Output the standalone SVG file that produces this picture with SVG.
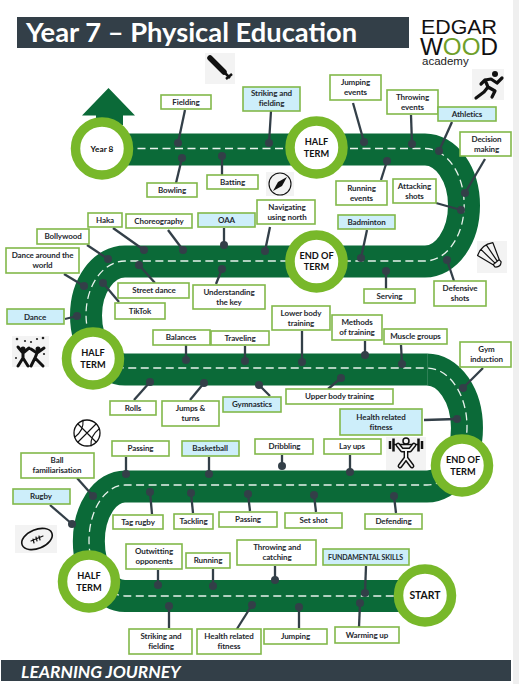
<svg xmlns="http://www.w3.org/2000/svg" width="519" height="684" viewBox="0 0 519 684">
<style>
text{font-family:"Lato","Liberation Sans",sans-serif;font-weight:700;fill:#1f2a30;text-anchor:middle}
.n rect{fill:#fff;stroke:#82b84a;stroke-width:1.6}
.b rect{fill:#cdeefa}
.n text{font-size:8px;letter-spacing:-.1px}
.s circle{fill:#fff;stroke:#78b82a;stroke-width:9.5}
.s text{font-size:9.2px;fill:#111}
#connectors line{stroke:#333f48;stroke-width:2.3}
#connectors circle{fill:#333f48;r:4px}
.ibg{fill:#f3f3f3}
.k{stroke:#111;fill:none;stroke-linecap:round;stroke-linejoin:round}
.logo{font-family:"Liberation Sans",sans-serif;font-weight:400;fill:#111;text-anchor:start}
</style>
<rect width="519" height="684" fill="#fff"/>
<rect x="513" width="6" height="684" fill="#efefef"/>
<rect x="17" y="17" width="392" height="31" fill="#333f48"/>
<text x="26" y="42" style="font-size:27.3px;fill:#fff;text-anchor:start">Year 7 – Physical Education</text>
<rect x="1" y="660" width="510" height="21" fill="#333f48"/>
<text x="21" y="678" style="font-size:17.4px;fill:#fff;font-style:italic;text-anchor:start">LEARNING JOURNEY</text>

<g id="logo">
<text class="logo" x="421" y="33.500" style="font-size:21px" textLength="76" lengthAdjust="spacingAndGlyphs">EDGAR</text>
<text class="logo" x="420" y="55" style="font-size:24px" textLength="78" lengthAdjust="spacingAndGlyphs">W<tspan fill="#6f9f2a">OO</tspan>D</text>
<text class="logo" x="422" y="65" style="font-size:11.5px;fill:#222">academy</text>
</g>

<g id="road">
<path d="M96 125V115.500H82L108.500 88L135 115.500H123V125Z" fill="#0b6a38"/>
<path d="M125 149.500H425A39 56 0 0 1 425 261.500H125A39 54 0 0 0 125 369.500H427A40 58.500 0 0 1 427 486.500H125A36 54.500 0 0 0 125 596H425" fill="none" stroke="#0b6a38" stroke-width="32"/>
<line x1="427.500" y1="354" x2="427.500" y2="385" stroke="#3f8a63" stroke-width=".7"/>
<path d="M125 148.500H425A39 56 0 0 1 425 261H125A39 53.500 0 0 0 125 368H427A40 58.500 0 0 1 427 485H125A36 55.500 0 0 0 125 596H400" fill="none" stroke="#e8f2ec" stroke-width="1.300" stroke-dasharray="8 4.500"/>
</g>

<g id="connectors">
<line x1="185" y1="110" x2="178" y2="143"/><circle cx="178" cy="143"/>
<line x1="176" y1="183" x2="182" y2="158"/><circle cx="182" cy="158"/>
<line x1="222" y1="175" x2="222" y2="156"/><circle cx="222" cy="156"/>
<line x1="271" y1="111" x2="269" y2="143"/><circle cx="269" cy="143"/>
<line x1="353" y1="103" x2="364" y2="142"/><circle cx="364" cy="142"/>
<line x1="411" y1="115" x2="412" y2="144"/><circle cx="412" cy="144"/>
<line x1="452" y1="122" x2="439" y2="151"/><circle cx="439" cy="151"/>
<line x1="485" y1="159" x2="465" y2="193"/><circle cx="465" cy="193"/>
<line x1="381" y1="180" x2="387" y2="161"/><circle cx="387" cy="161"/>
<line x1="436" y1="203" x2="461" y2="210"/><circle cx="461" cy="210"/>
<line x1="270" y1="227" x2="265" y2="251"/><circle cx="265" cy="251"/>
<line x1="367" y1="230" x2="361" y2="258"/><circle cx="361" cy="258"/>
<line x1="386" y1="289" x2="386" y2="271"/><circle cx="386" cy="271"/>
<line x1="454" y1="281" x2="447" y2="260"/><circle cx="447" cy="260"/>
<line x1="224" y1="228" x2="224" y2="245"/><circle cx="224" cy="245"/>
<line x1="168" y1="230" x2="183" y2="250"/><circle cx="183" cy="250"/>
<line x1="113" y1="228" x2="144" y2="250"/><circle cx="144" cy="250"/>
<line x1="87" y1="245" x2="108" y2="259"/><circle cx="108" cy="259"/>
<line x1="64" y1="274" x2="84" y2="286"/><circle cx="84" cy="286"/>
<line x1="155" y1="283" x2="139" y2="265"/><circle cx="139" cy="265"/>
<line x1="216" y1="284" x2="222" y2="269"/><circle cx="222" cy="269"/>
<line x1="119" y1="302" x2="103" y2="283"/><circle cx="103" cy="283"/>
<line x1="65" y1="319" x2="77" y2="316"/><circle cx="77" cy="316"/>
<line x1="186" y1="345" x2="186" y2="360"/><circle cx="186" cy="360"/>
<line x1="245" y1="346" x2="245" y2="361"/><circle cx="245" cy="361"/>
<line x1="302" y1="331" x2="302" y2="362"/><circle cx="302" cy="362"/>
<line x1="365" y1="341" x2="365" y2="355"/><circle cx="365" cy="355"/>
<line x1="401" y1="345" x2="402" y2="364"/><circle cx="402" cy="364"/>
<line x1="483" y1="368" x2="463" y2="388"/><circle cx="463" cy="388"/>
<line x1="328" y1="389" x2="341" y2="378"/><circle cx="341" cy="378"/>
<line x1="424" y1="420" x2="457" y2="419"/><circle cx="457" cy="419"/>
<line x1="134" y1="400" x2="150" y2="382"/><circle cx="150" cy="382"/>
<line x1="190" y1="400" x2="204" y2="383"/><circle cx="204" cy="383"/>
<line x1="270" y1="396" x2="259" y2="385"/><circle cx="259" cy="385"/>
<line x1="282" y1="455" x2="282" y2="466"/><circle cx="282" cy="466"/>
<line x1="350" y1="455" x2="350" y2="472"/><circle cx="350" cy="472"/>
<line x1="126" y1="457" x2="126" y2="474"/><circle cx="126" cy="474"/>
<line x1="209" y1="457" x2="209" y2="474"/><circle cx="209" cy="474"/>
<line x1="77" y1="478" x2="93" y2="496"/><circle cx="93" cy="496"/>
<line x1="50" y1="505" x2="72" y2="524"/><circle cx="72" cy="524"/>
<line x1="152" y1="514" x2="150" y2="492"/><circle cx="150" cy="492"/>
<line x1="193" y1="513" x2="191" y2="493"/><circle cx="191" cy="493"/>
<line x1="250" y1="511" x2="248" y2="494"/><circle cx="248" cy="494"/>
<line x1="316" y1="512" x2="314" y2="495"/><circle cx="314" cy="495"/>
<line x1="396" y1="513" x2="394" y2="496"/><circle cx="394" cy="496"/>
<line x1="158" y1="570" x2="158" y2="585"/><circle cx="158" cy="585"/>
<line x1="213" y1="569" x2="213" y2="586"/><circle cx="213" cy="586"/>
<line x1="275" y1="566" x2="275" y2="580"/><circle cx="275" cy="580"/>
<line x1="366" y1="566" x2="365" y2="593"/><circle cx="365" cy="593"/>
<line x1="359" y1="627" x2="360" y2="603"/><circle cx="360" cy="603"/>
<line x1="299" y1="628" x2="299" y2="607"/><circle cx="299" cy="607"/>
<line x1="169" y1="628" x2="169" y2="606"/><circle cx="169" cy="606"/>
<line x1="235" y1="632" x2="252" y2="605"/><circle cx="252" cy="605"/>
</g>

<g id="s-year8" class="s"><circle cx="102" cy="148.500" r="26.500"/><text x="102" y="151.500" style="font-size:8.300px">Year 8</text></g>
<g id="s-half1" class="s"><circle cx="316.500" cy="147.500" r="26.500"/><text x="316.500" y="145">HALF</text><text x="316.500" y="156.500">TERM</text></g>
<g id="s-end1" class="s"><circle cx="316.500" cy="261.500" r="26.500"/><text x="316.500" y="259">END OF</text><text x="316.500" y="270">TERM</text></g>
<g id="s-half2" class="s"><circle cx="93" cy="358.500" r="26.500"/><text x="93" y="356">HALF</text><text x="93" y="368">TERM</text></g>
<g id="s-end2" class="s"><circle cx="462" cy="465.500" r="26.500"/><text x="463" y="462.500">END OF</text><text x="463" y="474.500">TERM</text></g>
<g id="s-half3" class="s"><circle cx="89" cy="581.500" r="26.500"/><text x="89" y="578.500">HALF</text><text x="89" y="590.500">TERM</text></g>
<g id="s-start" class="s"><circle cx="425" cy="595.500" r="26.500"/><text x="425" y="599" style="font-size:10.400px">START</text></g>

<g id="n-fielding" class="n"><rect x="161" y="95" width="50" height="14"/><text x="186" y="104.500">Fielding</text></g>
<g id="n-bowling" class="n"><rect x="147" y="183" width="50" height="14"/><text x="172" y="193">Bowling</text></g>
<g id="n-batting" class="n"><rect x="207" y="175" width="51" height="14"/><text x="232.500" y="184.500">Batting</text></g>
<g id="n-haka" class="n"><rect x="88" y="213" width="34" height="14"/><text x="105" y="222.500">Haka</text></g>
<g id="n-choreography" class="n"><rect x="126" y="214" width="66" height="14"/><text x="159" y="223.500">Choreography</text></g>
<g id="n-oaa" class="n b"><rect x="198" y="213" width="57" height="14"/><text x="226.500" y="222.500">OAA</text></g>
<g id="n-striking1" class="n b"><rect x="243" y="87" width="57" height="24"/><text x="271.500" y="96">Striking and</text><text x="271.500" y="106">fielding</text></g>
<g id="n-jumping-events" class="n"><rect x="330" y="75" width="51" height="25"/><text x="355.500" y="85">Jumping</text><text x="355.500" y="95">events</text></g>
<g id="n-throwing-events" class="n"><rect x="387" y="90" width="51" height="24"/><text x="412.500" y="99.500">Throwing</text><text x="412.500" y="109.500">events</text></g>
<g id="n-athletics" class="n b"><rect x="438" y="107" width="58" height="14"/><text x="467" y="116.500">Athletics</text></g>
<g id="n-decision" class="n"><rect x="460" y="132" width="51" height="24"/><text x="486.500" y="141.500">Decision</text><text x="486.500" y="151.500">making</text></g>
<g id="n-running-events" class="n"><rect x="336" y="181" width="51" height="24"/><text x="361.500" y="190.500">Running</text><text x="361.500" y="200.500">events</text></g>
<g id="n-attacking" class="n"><rect x="393" y="179" width="43" height="24"/><text x="414.500" y="188.500">Attacking</text><text x="414.500" y="198.500">shots</text></g>
<g id="n-navigating" class="n"><rect x="257" y="200" width="58" height="24"/><text x="287" y="209.500">Navigating</text><text x="287" y="219.500">using north</text></g>
<g id="n-badminton" class="n b"><rect x="338" y="215" width="57" height="14"/><text x="366.500" y="224.500">Badminton</text></g>
<g id="n-serving" class="n"><rect x="364" y="289" width="51" height="14"/><text x="389.500" y="298.500">Serving</text></g>
<g id="n-defensive" class="n"><rect x="434" y="281" width="52" height="25"/><text x="460" y="290.500">Defensive</text><text x="460" y="300.500">shots</text></g>
<g id="n-bollywood" class="n"><rect x="37" y="229" width="52" height="15"/><text x="63" y="239">Bollywood</text></g>
<g id="n-dance-world" class="n"><rect x="6" y="248" width="73" height="25"/><text x="42.500" y="258">Dance around the</text><text x="42.500" y="268">world</text></g>
<g id="n-street" class="n"><rect x="118" y="283" width="71" height="15"/><text x="154" y="293">Street dance</text></g>
<g id="n-understanding" class="n"><rect x="193" y="285" width="72" height="24"/><text x="229" y="294.500">Understanding</text><text x="229" y="304.500">the key</text></g>
<g id="n-tiktok" class="n"><rect x="115" y="303" width="50" height="16"/><text x="140" y="313.500">TikTok</text></g>
<g id="n-dance" class="n b"><rect x="7" y="309" width="57" height="15"/><text x="35" y="319.500">Dance</text></g>
<g id="n-balances" class="n"><rect x="153" y="330" width="57" height="15"/><text x="181" y="339.500">Balances</text></g>
<g id="n-traveling" class="n"><rect x="211" y="331" width="58" height="14"/><text x="240" y="340.500">Traveling</text></g>
<g id="n-lower" class="n"><rect x="272" y="306" width="58" height="24"/><text x="301" y="315.500">Lower body</text><text x="301" y="325.500">training</text></g>
<g id="n-methods" class="n"><rect x="332" y="315" width="50" height="25"/><text x="357" y="324.500">Methods</text><text x="357" y="334.500">of training</text></g>
<g id="n-muscle" class="n"><rect x="384" y="329" width="63" height="15"/><text x="415.500" y="338.500">Muscle groups</text></g>
<g id="n-gym" class="n"><rect x="460" y="342" width="51" height="25"/><text x="486.500" y="351.500">Gym</text><text x="486.500" y="361.500">induction</text></g>
<g id="n-rolls" class="n"><rect x="110" y="401" width="46" height="14"/><text x="133" y="410.500">Rolls</text></g>
<g id="n-jumps" class="n"><rect x="162" y="401" width="57" height="25"/><text x="190.500" y="410.500">Jumps &amp;</text><text x="190.500" y="420.500">turns</text></g>
<g id="n-gymnastics" class="n b"><rect x="223" y="397" width="58" height="15"/><text x="252" y="407">Gymnastics</text></g>
<g id="n-upper" class="n"><rect x="286" y="389" width="107" height="15"/><text x="339.500" y="399">Upper body training</text></g>
<g id="n-health1" class="n b"><rect x="340" y="409" width="82" height="26"/><text x="381" y="419.500">Health related</text><text x="381" y="429.500">fitness</text></g>
<g id="n-dribbling" class="n"><rect x="255" y="439" width="58" height="15"/><text x="284.500" y="448.500">Dribbling</text></g>
<g id="n-layups" class="n"><rect x="324" y="439" width="57" height="15"/><text x="352" y="448.500">Lay ups</text></g>
<g id="n-passing1" class="n"><rect x="112" y="441" width="57" height="15"/><text x="140.500" y="450.500">Passing</text></g>
<g id="n-basketball" class="n b"><rect x="182" y="441" width="57" height="15"/><text x="210" y="450.500">Basketball</text></g>
<g id="n-ball" class="n"><rect x="21" y="453" width="73" height="25"/><text x="57" y="462.500">Ball</text><text x="57" y="472.500">familiarisation</text></g>
<g id="n-rugby" class="n b"><rect x="13" y="489" width="57" height="15"/><text x="41" y="499">Rugby</text></g>
<g id="n-tag" class="n"><rect x="113" y="515" width="50" height="14"/><text x="138" y="525">Tag rugby</text></g>
<g id="n-tackling" class="n"><rect x="174" y="514" width="39" height="15"/><text x="193.500" y="523.500">Tackling</text></g>
<g id="n-passing2" class="n"><rect x="219" y="512" width="58" height="15"/><text x="248" y="521.500">Passing</text></g>
<g id="n-setshot" class="n"><rect x="285" y="513" width="57" height="15"/><text x="313.500" y="522.500">Set shot</text></g>
<g id="n-defending" class="n"><rect x="365" y="514" width="57" height="15"/><text x="393.500" y="523.500">Defending</text></g>
<g id="n-outwitting" class="n"><rect x="126" y="544" width="56" height="25"/><text x="154" y="553.500">Outwitting</text><text x="154" y="563.500">opponents</text></g>
<g id="n-running" class="n"><rect x="186" y="553" width="44" height="15"/><text x="208" y="562.500">Running</text></g>
<g id="n-throwing" class="n"><rect x="237" y="540" width="79" height="25"/><text x="277" y="550">Throwing and</text><text x="277" y="560">catching</text></g>
<g id="n-fundamental" class="n b"><rect x="323" y="549" width="86" height="16"/><text x="365.500" y="559.500" textLength="75" lengthAdjust="spacingAndGlyphs">FUNDAMENTAL SKILLS</text></g>
<g id="n-striking2" class="n"><rect x="129" y="629" width="63" height="25"/><text x="161" y="638.500">Striking and</text><text x="161" y="648.500">fielding</text></g>
<g id="n-health2" class="n"><rect x="197" y="629" width="64" height="25"/><text x="229" y="638.500">Health related</text><text x="229" y="648.500">fitness</text></g>
<g id="n-jumping" class="n"><rect x="264" y="629" width="63" height="15"/><text x="295.500" y="639">Jumping</text></g>
<g id="n-warming" class="n"><rect x="335" y="627" width="64" height="16"/><text x="367" y="637.500">Warming up</text></g>

<g id="icon-bat"><rect class="ibg" x="205" y="53" width="30" height="31"/><path d="M210 58L224 72" stroke="#111" stroke-width="5.500" stroke-linecap="round"/><path d="M224 72L230 78M226 79L232 74" stroke="#111" stroke-width="2.500"/></g>
<g id="icon-runner"><rect class="ibg" x="472" y="69" width="32" height="31"/><circle cx="495" cy="74" r="3" fill="#111"/><path class="k" stroke-width="3.200" d="M476 98L484 92L488 87L485 80L491 79L497 83L502 78M488 87L495 91L492 97M485 80L481 84"/></g>
<g id="icon-compass"><rect class="ibg" x="266" y="172" width="28" height="24"/><circle class="k" stroke-width="1.100" cx="280" cy="184" r="11"/><path d="M287 177L282 186L273 191L278 182Z" fill="#111"/></g>
<g id="icon-shuttle"><rect class="ibg" x="477" y="241" width="30" height="32"/><g transform="translate(491 256) rotate(-40)"><path class="k" stroke-width="1.200" d="M-4 8L-10 -9Q0 -15 10 -9L4 8ZM-3.500 -11.500L-1.500 8M3.500 -11.500L1.500 8M-4 8V11Q0 15 4 11V8"/></g></g>
<g id="icon-dance"><rect class="ibg" x="12" y="336" width="37" height="31"/><g class="k" stroke-width="3"><path d="M23 353V358M23 358L18 366M23 358L28 366M23 353L18 347M23 353L29 348M37 353L35 358M35 358L31 366M35 358L43 366M37 353L31 349M37 353L44 348"/></g><circle cx="23" cy="349" r="2.500" fill="#111"/><circle cx="38" cy="349" r="2.500" fill="#111"/><g fill="#222"><circle cx="17" cy="339" r="1.300"/><circle cx="25" cy="341" r="1.100"/><circle cx="31" cy="342" r="1.100"/><circle cx="37" cy="339" r="1.100"/><circle cx="43" cy="338" r="1.300"/><circle cx="16" cy="358" r="1"/><circle cx="44" cy="354" r="1.100"/></g></g>
<g id="icon-lifter"><rect class="ibg" x="386" y="437" width="40" height="33"/><path stroke="#111" stroke-width="2.500" fill="none" d="M390 441V449M393.500 438.500V451.500M418.500 438.500V451.500M422 441V449"/><path stroke="#111" stroke-width="1.500" d="M393 444.500H419"/><path class="k" stroke-width="4.800" d="M398 445L402 450H410L414 445M406 450V458M406 458L400 466M406 458L412 466"/><path stroke="#f3f3f3" stroke-width="2" fill="none" stroke-linecap="round" stroke-linejoin="round" d="M398 445L402 450H410L414 445M406 450V458M406 458L400 466M406 458L412 466"/><circle cx="406" cy="441" r="3" fill="#f3f3f3" stroke="#111" stroke-width="1.500"/></g>
<g id="icon-basketball"><circle class="k" stroke-width="1.300" cx="87" cy="433" r="13"/><path class="k" stroke-width="1.100" d="M78 424L96 442M96 424L78 442M75 437Q84 430 83 420M99 429Q90 436 91 446"/></g>
<g id="icon-rugby"><rect class="ibg" x="15" y="525" width="42" height="28"/><ellipse class="k" stroke-width="1.600" cx="37" cy="539" rx="16" ry="9.500" transform="rotate(-22 37 539)"/><path class="k" stroke-width="1.200" d="M31 541L43 536M33 539L34 543M36 537L37 541M39 536L40 540"/></g>
</svg>
